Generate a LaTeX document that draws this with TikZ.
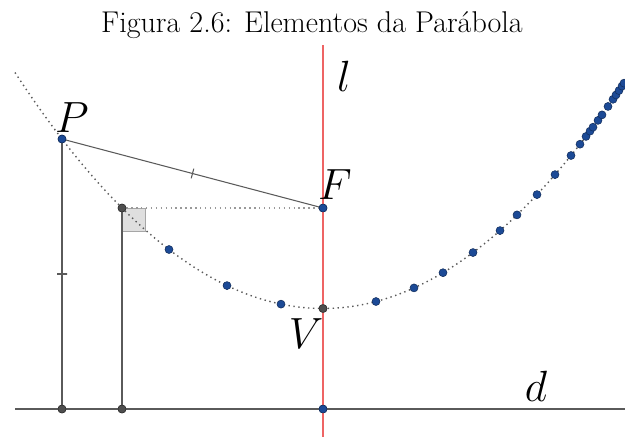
\documentclass[tikz,border=0pt]{standalone}
\usepackage{tikz}
\usetikzlibrary{calc}
\definecolor{axisred}{RGB}{238,100,100}
\definecolor{ptblue}{RGB}{28,74,150}
\definecolor{ptgray}{RGB}{78,78,78}
\definecolor{linegray}{RGB}{90,90,90}
\tikzset{
  ptb/.style={circle, fill=ptblue, draw=ptblue!60!black, line width=0.3pt, inner sep=0pt, minimum size=1.6mm},
  ptg/.style={ptb, fill=ptgray, draw=ptgray!60!black},
  seg/.style={draw=linegray, line width=0.6pt},
  direc/.style={draw=linegray, line width=1.4pt},
  axisl/.style={draw=axisred, line width=1pt},
  locus/.style={draw=linegray, line width=0.8pt, dotted},
  guide/.style={locus, draw=gray!80},
  rightsq/.style={draw=gray!70, fill=gray!25, line width=0.5pt},
  tickmark/.style={draw=linegray, line width=0.6pt, inner sep=0pt, minimum width=0pt, minimum height=2mm},
  lbl/.style={font=\fontsize{24}{28}\selectfont},
}
\begin{document}
\begin{tikzpicture}[x=0.02cm, y=-0.02cm]
\useasboundingbox (0,0) rectangle (625,437);
\node[font=\fontsize{17.1}{20}\selectfont] (title) at (312,25) {Figura 2.6: Elementos da Parábola};
\coordinate (lt) at (323,45);
\coordinate (lb) at (323,437);
\coordinate (dl) at (15,409);
\coordinate (dr) at (625,409);
\coordinate (Q) at (122,208);
\draw[rightsq] (Q) rectangle ++(23.5,23.5);
\draw[locus] plot[domain=-308:302, samples=120] ({323+\x},{308.5-(\x/20)^2*0.995});
\node[ptb] (P) at (62,139) {};
\node[ptb] (F) at (323,208) {};
\node[ptg] (V) at (323,308.5) {};
\node[ptg] (Q0) at (Q) {};
\node[ptg] (D1) at (62,409) {};
\node[ptg] (D2) at (122,409) {};
\node[ptb] (D0) at (323,409) {};
\draw[guide] (Q0) -- (F);
\draw[seg] (P) -- node[sloped, tickmark] (t1) {} (F);
\draw[seg] (P) -- node[sloped, tickmark] (t2) {} (D1);
\draw[seg] (Q0) -- (D2);
\draw[direc] (dl) -- (dr);
\draw[axisl] (lt) -- (lb);
\foreach \dx [count=\i] in {-154,-96,-42,53,91,120,150,177,194,214,232,248,257,263,267,270,275,279,285,290,293,296,299,301}
  \node[ptb] (q\i) at ({323+\dx},{308.5-(\dx/20)^2*0.995}) {};
\node[ptb] at (P) {};
\node[ptb] at (F) {};
\node[ptg] at (V) {};
\node[ptg] at (Q0) {};
\node[ptg] at (D1) {};
\node[ptg] at (D2) {};
\node[ptb] at (D0) {};
\node[lbl] (lP) at (72,118) {$P$};
\node[lbl] (lF) at (335,185) {$F$};
\node[lbl] (lV) at (306,334) {$V$};
\node[lbl] (ll) at (344,76) {$l$};
\node[lbl] (ld) at (536,386) {$d$};
\end{tikzpicture}
\end{document}
